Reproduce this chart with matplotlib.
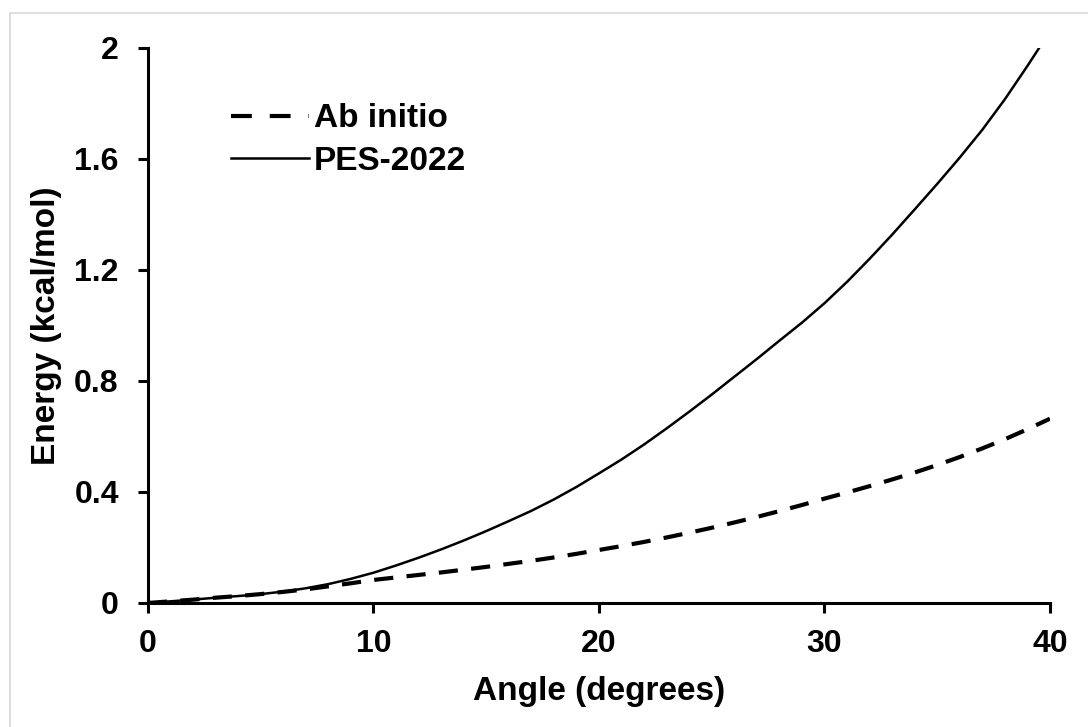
import matplotlib
matplotlib.use("Agg")
import matplotlib.pyplot as plt
from matplotlib.lines import Line2D
from matplotlib.patches import Rectangle

plt.rcParams["font.family"] = ["Liberation Sans", "DejaVu Sans"]
plt.rcParams["font.weight"] = "bold"

# values, one per degree
angle = list(range(0, 41))
pes_2022 = [0, 0.006, 0.012, 0.019, 0.025, 0.032, 0.041, 0.053, 0.068, 0.087,
            0.109, 0.135, 0.163, 0.193, 0.225, 0.259, 0.295, 0.332, 0.373, 0.418,
            0.467, 0.517, 0.571, 0.629, 0.689, 0.751, 0.815, 0.879, 0.945, 1.01,
            1.08, 1.157, 1.24, 1.327, 1.418, 1.51, 1.605, 1.705, 1.815, 1.935, 2.06]
ab_initio = [0, 0.006, 0.012, 0.019, 0.025, 0.032, 0.04, 0.049, 0.06, 0.071,
             0.083, 0.092, 0.101, 0.11, 0.12, 0.13, 0.141, 0.152, 0.164, 0.177,
             0.191, 0.205, 0.22, 0.236, 0.253, 0.271, 0.29, 0.31, 0.331, 0.353,
             0.376, 0.398, 0.421, 0.445, 0.47, 0.497, 0.526, 0.557, 0.59, 0.626, 0.664]
x_ticks = [0, 10, 20, 30, 40]
y_ticks = [0, 0.4, 0.8, 1.2, 1.6, 2]
y_labels = ["0", "0.4", "0.8", "1.2", "1.6", "2"]

fig = plt.figure(figsize=(10.88, 7.27), dpi=100)
ax = fig.add_axes([0.136, 0.1706, 0.829, 0.7634])

# light grey frame around the picture (only left and top edges show)
fig.patches.append(Rectangle((10 / 1088, -0.1), 1.2, 1 - 13 / 727 + 0.1,
                             transform=fig.transFigure, fill=False,
                             edgecolor="#d9d9d9", linewidth=1.2))

ax.plot(angle, ab_initio, color="black", linewidth=3.0, linestyle=(0, (4.6, 3.2)))
solid, = ax.plot(angle, pes_2022, color="black", linewidth=1.8)

ax.set_xlim(0, 40)
ax.set_ylim(0, 2)
ax.set_xticks(x_ticks)
ax.set_yticks(y_ticks)
ax.set_yticklabels(y_labels)

for side in ["top", "right"]:
    ax.spines[side].set_visible(False)
for side in ["left", "bottom"]:
    ax.spines[side].set_linewidth(2.2)
ax.tick_params(direction="out", length=7, width=2.2, labelsize=23)
ax.tick_params(axis="x", pad=12)
ax.tick_params(axis="y", pad=14)

ax.set_xlabel("Angle (degrees)", fontsize=24, fontweight="bold", labelpad=12)
ax.set_ylabel("Energy (kcal/mol)", fontsize=24, fontweight="bold", labelpad=9)

# legend sample of the dashed line shows two long dashes, as in the original
dash_handle = Line2D([], [], color="black", linewidth=3.0, linestyle=(0, (5, 4.3)))
ax.legend([dash_handle, solid], ["Ab initio", "PES-2022"],
          loc="upper left", bbox_to_anchor=(0.092, 0.90), frameon=False,
          fontsize=24, handlelength=2.34, handletextpad=0.15, labelspacing=0.35,
          borderpad=0, borderaxespad=0)

fig.savefig("out.png", dpi=100)
